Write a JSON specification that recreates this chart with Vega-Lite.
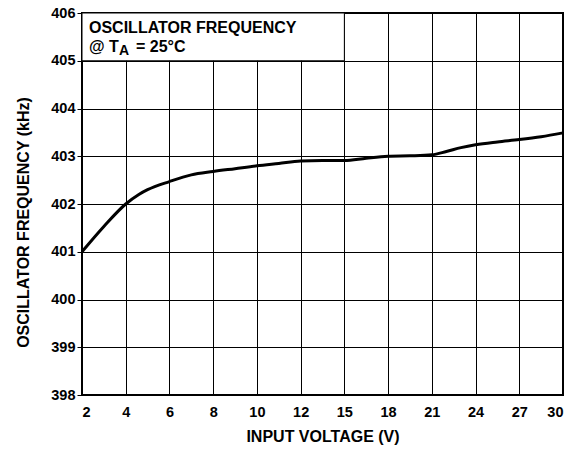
{
  "$schema": "https://vega.github.io/schema/vega-lite/v6.json",
  "width": 481,
  "height": 382,
  "autosize": {"type": "none"},
  "padding": {"left": 82, "top": 13, "right": 18, "bottom": 55},
  "background": "white",
  "config": {
    "font": "Liberation Sans",
    "view": {"stroke": "black", "strokeWidth": 2},
    "axis": {
      "labelFont": "Liberation Sans",
      "labelFontSize": 14.5,
      "labelFontWeight": "bold",
      "labelColor": "black",
      "titleFont": "Liberation Sans",
      "titleFontSize": 16,
      "titleFontWeight": "bold",
      "titleColor": "black",
      "gridColor": "black",
      "gridOpacity": 1,
      "gridWidth": 1,
      "domain": false,
      "tickColor": "black"
    }
  },
  "datasets": {
    "curve": [
      {"v": 2, "f": 401.0},
      {"v": 3, "f": 401.53},
      {"v": 4, "f": 402.0},
      {"v": 4.6, "f": 402.2},
      {"v": 5, "f": 402.3},
      {"v": 6, "f": 402.47},
      {"v": 7, "f": 402.61},
      {"v": 8, "f": 402.68},
      {"v": 9, "f": 402.74},
      {"v": 10, "f": 402.8},
      {"v": 11, "f": 402.85},
      {"v": 12, "f": 402.9},
      {"v": 13.5, "f": 402.91},
      {"v": 15, "f": 402.91},
      {"v": 16.5, "f": 402.96},
      {"v": 18, "f": 403.0},
      {"v": 19.5, "f": 403.01},
      {"v": 21, "f": 403.03},
      {"v": 22, "f": 403.1},
      {"v": 23, "f": 403.18},
      {"v": 24, "f": 403.24},
      {"v": 25.5, "f": 403.3},
      {"v": 27, "f": 403.35},
      {"v": 28.5, "f": 403.41},
      {"v": 30, "f": 403.49}
    ],
    "box": [{"x1": 2, "x2": 15, "y1": 405, "y2": 406}],
    "labels": [{"x": 2, "y": 406}]
  },
  "layer": [
    {
      "data": {"name": "curve"},
      "mark": {"type": "line", "color": "black", "strokeWidth": 3, "interpolate": "monotone"},
      "encoding": {
        "x": {
          "field": "v",
          "type": "quantitative",
          "scale": {"type": "linear", "domain": [2, 12, 30], "range": [0, 218.636, 481], "nice": false, "zero": false},
          "axis": {
            "values": [2, 4, 6, 8, 10, 12, 15, 18, 21, 24, 27, 30],
            "title": "INPUT VOLTAGE (V)",
            "ticks": false,
            "labelPadding": 10,
            "titleY": 46,
            "titleBaseline": "alphabetic",
            "grid": true
          }
        },
        "y": {
          "field": "f",
          "type": "quantitative",
          "scale": {"domain": [398, 406], "nice": false, "zero": false},
          "axis": {
            "values": [398, 399, 400, 401, 402, 403, 404, 405, 406],
            "title": "OSCILLATOR FREQUENCY (kHz)",
            "ticks": true,
            "tickSize": 5,
            "labelPadding": 2,
            "titleX": -54,
            "titleY": 209,
            "titleBaseline": "alphabetic",
            "grid": true
          }
        }
      }
    },
    {
      "data": {"name": "box"},
      "mark": {"type": "rect", "fill": "white", "stroke": "black", "strokeWidth": 1},
      "encoding": {
        "x": {"field": "x1", "type": "quantitative"},
        "x2": {"field": "x2"},
        "y": {"field": "y1", "type": "quantitative"},
        "y2": {"field": "y2"}
      }
    },
    {
      "data": {"name": "labels"},
      "mark": {"type": "text", "text": "OSCILLATOR FREQUENCY", "align": "left", "baseline": "alphabetic", "dx": 7, "dy": 20, "fontSize": 16, "fontWeight": "bold", "color": "black", "font": "Liberation Sans"},
      "encoding": {"x": {"field": "x", "type": "quantitative"}, "y": {"field": "y", "type": "quantitative"}}
    },
    {
      "data": {"name": "labels"},
      "mark": {"type": "text", "text": "@ T", "align": "left", "baseline": "alphabetic", "dx": 7, "dy": 39, "fontSize": 16, "fontWeight": "bold", "color": "black", "font": "Liberation Sans"},
      "encoding": {"x": {"field": "x", "type": "quantitative"}, "y": {"field": "y", "type": "quantitative"}}
    },
    {
      "data": {"name": "labels"},
      "mark": {"type": "text", "text": "A", "align": "left", "baseline": "alphabetic", "dx": 37, "dy": 42, "fontSize": 14, "fontWeight": "bold", "color": "black", "font": "Liberation Sans"},
      "encoding": {"x": {"field": "x", "type": "quantitative"}, "y": {"field": "y", "type": "quantitative"}}
    },
    {
      "data": {"name": "labels"},
      "mark": {"type": "text", "text": "= 25°C", "align": "left", "baseline": "alphabetic", "dx": 54, "dy": 39, "fontSize": 16, "fontWeight": "bold", "color": "black", "font": "Liberation Sans"},
      "encoding": {"x": {"field": "x", "type": "quantitative"}, "y": {"field": "y", "type": "quantitative"}}
    }
  ]
}
